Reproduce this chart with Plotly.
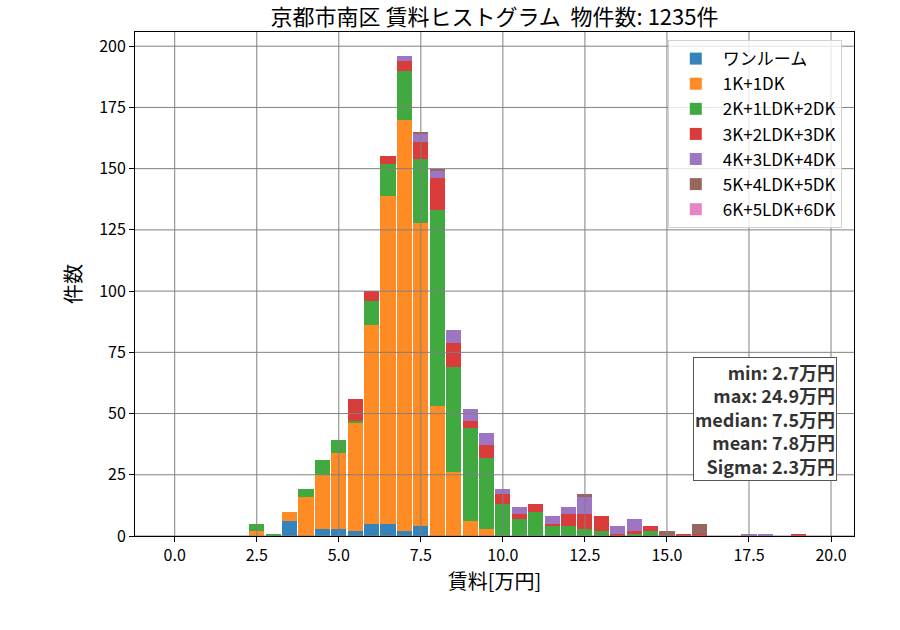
import plotly.graph_objects as go

centers = [2.5, 3.0, 3.5, 4.0, 4.5, 5.0, 5.5, 6.0, 6.5, 7.0, 7.5, 8.0, 8.5, 9.0, 9.5,
           10.0, 10.5, 11.0, 11.5, 12.0, 12.5, 13.0, 13.5, 14.0, 14.5, 15.0, 15.5,
           16.0, 16.5, 17.0, 17.5, 18.0, 18.5, 19.0]

oneroom = [0, 0, 6, 0, 3, 3, 2, 5, 5, 2, 4, 0, 0, 0, 0, 0, 0, 0, 0, 0, 0, 0, 0, 0, 0, 0, 0, 0, 0, 0, 0, 0, 0, 0]
k1 = [2, 0, 4, 16, 22, 31, 44, 81, 134, 168, 124, 53, 26, 6, 3, 0, 0, 0, 0, 0, 0, 0, 0, 0, 0, 0, 0, 0, 0, 0, 0, 0, 0, 0]
k2 = [3, 1, 0, 3, 6, 5, 1, 10, 13, 20, 26, 80, 43, 38, 29, 13, 7, 10, 4, 4, 3, 2, 0, 1, 2, 0, 0, 0, 0, 0, 0, 0, 0, 0]
k3 = [0, 0, 0, 0, 0, 0, 9, 4, 3, 4, 7, 13, 10, 3, 5, 4, 2, 3, 1, 5, 6, 6, 1, 1, 2, 0, 1, 1, 0, 0, 0, 0, 0, 1]
k4 = [0, 0, 0, 0, 0, 0, 0, 0, 0, 2, 3, 3, 5, 5, 5, 2, 3, 0, 3, 3, 7, 0, 3, 5, 0, 0, 0, 0, 0, 0, 1, 1, 0, 0]
k5 = [0, 0, 0, 0, 0, 0, 0, 0, 0, 0, 1, 1, 0, 0, 0, 0, 0, 0, 0, 0, 1, 0, 0, 0, 0, 2, 0, 4, 0, 0, 0, 0, 0, 0]
k6 = [0] * len(centers)

names = ["ワンルーム", "1K+1DK", "2K+1LDK+2DK", "3K+2LDK+3DK", "4K+3LDK+4DK", "5K+4LDK+5DK", "6K+5LDK+6DK"]
series = [oneroom, k1, k2, k3, k4, k5, k6]
colors = ["#1f77b4", "#ff7f0e", "#2ca02c", "#d62728", "#9467bd", "#8c564b", "#e377c2"]

xticks = [0.0, 2.5, 5.0, 7.5, 10.0, 12.5, 15.0, 17.5, 20.0]
yticks = [0, 25, 50, 75, 100, 125, 150, 175, 200]

stats_text = "min: 2.7万円<br>max: 24.9万円<br>median: 7.5万円<br>mean: 7.8万円<br>Sigma: 2.3万円"
title_text = "京都市南区 賃料ヒストグラム  物件数: 1235件"

FONT = "Noto Sans CJK JP"

fig = go.Figure()
for name, vals, col in zip(names, series, colors):
    fig.add_trace(go.Bar(
        x=centers, y=vals, name=name, width=0.46,
        marker=dict(color=col, line=dict(width=0)), opacity=0.9,
        legendgroup=name,
    ))

shapes = []
for xv in xticks:
    shapes.append(dict(type="line", xref="x", yref="paper", x0=xv, x1=xv, y0=0, y1=1,
                       line=dict(color="#808080", width=1), layer="above"))
for yv in yticks:
    shapes.append(dict(type="line", xref="paper", yref="y", x0=0, x1=1, y0=yv, y1=yv,
                       line=dict(color="#808080", width=1), layer="above"))

fig.update_layout(
    width=900, height=630,
    barmode="stack", bargap=0,
    paper_bgcolor="white", plot_bgcolor="white",
    margin=dict(l=135, r=46, t=32, b=94),
    font=dict(family=FONT, size=16, color="black"),
    title=dict(text=title_text, x=0.5, xref="paper", xanchor="center",
               y=1 - 17 / 630, yref="container", yanchor="middle",
               font=dict(size=22, color="black")),
    xaxis=dict(range=[-1.21, 20.70], tickvals=xticks, ticktext=[f"{v:.1f}" for v in xticks],
               showgrid=False, zeroline=False, showline=True, mirror=True,
               linecolor="black", linewidth=1, ticks="outside", ticklen=5, tickcolor="black",
               title=dict(text="賃料[万円]", font=dict(size=20), standoff=6),
               tickfont=dict(size=16)),
    yaxis=dict(range=[0, 205.8], tickvals=yticks, showgrid=False, zeroline=False,
               showline=True, mirror=True, linecolor="black", linewidth=1,
               ticks="outside", ticklen=5, tickcolor="black",
               title=dict(text="件数", font=dict(size=20), standoff=12),
               tickfont=dict(size=16)),
    legend=dict(x=0.741, y=0.984, xanchor="left", yanchor="top",
                bgcolor="rgba(255,255,255,0.8)", bordercolor="#d0d0d0", borderwidth=1,
                font=dict(size=17), tracegroupgap=5, traceorder="normal", itemwidth=44),
    shapes=shapes,
    annotations=[dict(text=stats_text, xref="paper", yref="paper", x=0.976, y=0.109,
                      xanchor="right", yanchor="bottom", align="right", showarrow=False,
                      font=dict(size=18, color="#333333", family=FONT, weight="bold"),
                      bgcolor="white", bordercolor="#555555", borderwidth=1, borderpad=1)],
)

fig.write_html("out.html", config={"displayModeBar": False},
               post_script="document.body.style.margin='0';")
